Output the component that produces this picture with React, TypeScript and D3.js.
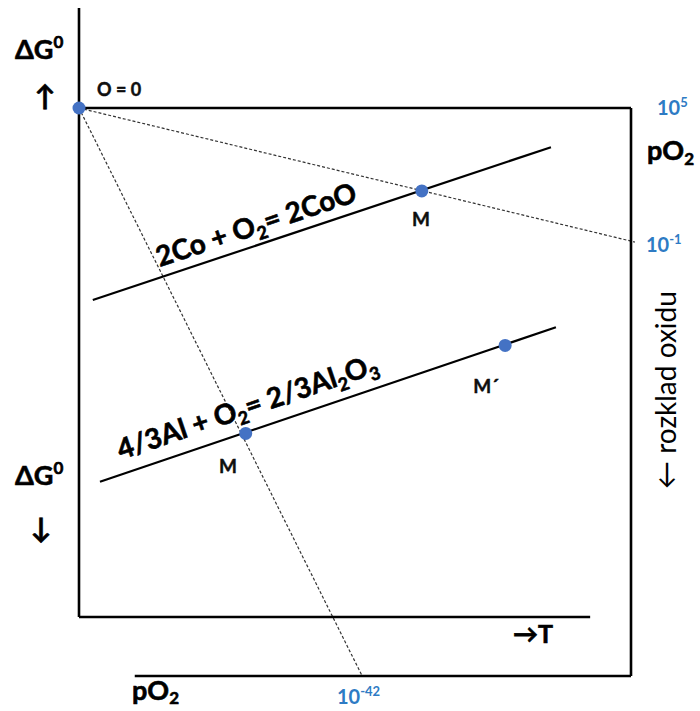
import React from "react";
import * as d3 from "d3";

// Ellingham-type diagram: ΔG° of oxide formation vs temperature, with pO2 nomogram.
const W = 700;
const H = 711;

// Reaction lines: [T, ΔG] at each end (arbitrary diagram units)
const reactionNames = ["co", "al"];
const reactionStart: [number, number][] = [
  [25, -338],
  [38, -658],
];
const reactionEnd: [number, number][] = [
  [855, -69],
  [864, -386],
];

// Marked points on the reaction lines
const pointLabels = ["M", "M", "M´"];
const pointT = [621, 302, 772];
const pointG = [-146, -573, -418];

// pO2 nomogram rays from the origin (T = 0, ΔG = 0)
const rayEndT = [1007, 513];
const rayEndG = [-236, -1000];

// pO2 scale labels (exponents of 10)
const pO2Exponents = ["5", "-1", "-42"];

const FONT = "Lato, 'Liberation Sans', sans-serif";
const BLUE = "#2E7BC4";
const DOT = "#4472C4";

export default function App() {
  const x = d3.scaleLinear().domain([0, 1000]).range([79, 631]);
  const y = d3.scaleLinear().domain([0, -1000]).range([108, 676]);

  const lineGen = d3
    .line<[number, number]>()
    .x((d) => x(d[0]))
    .y((d) => y(d[1]));

  // label placement helper along a reaction line
  const along = (i: number, frac: number, offset: number) => {
    const [t1, g1] = reactionStart[i];
    const [t2, g2] = reactionEnd[i];
    const x1 = x(t1), y1 = y(g1), x2 = x(t2), y2 = y(g2);
    const ang = Math.atan2(y2 - y1, x2 - x1);
    const px = x1 + (x2 - x1) * frac + Math.sin(ang) * offset;
    const py = y1 + (y2 - y1) * frac - Math.cos(ang) * offset;
    return { px, py, deg: (ang * 180) / Math.PI };
  };

  const coLbl = along(0, 0.37, 10);
  const alLbl = along(1, 0.34, 14);

  const pointLabelPos: [number, number][] = [
    [421, 226],
    [228, 473],
    [486, 393],
  ];

  // heavier bold, closer to a Calibri-like weight
  const heavy = { fontWeight: "bold" as const, stroke: "#000", strokeWidth: 0.6 };

  return (
    <svg
      width={W}
      height={H}
      style={{ position: "absolute", left: 0, top: 0, background: "#fff" }}
      fontFamily={FONT}
    >
      <rect width={W} height={H} fill="#fff" />

      {/* pO2 rays */}
      {rayEndT.map((t, i) => (
        <path
          key={"ray" + i}
          d={lineGen([
            [0, 0],
            [t, rayEndG[i]],
          ]) as string}
          stroke="#333"
          strokeWidth={1.2}
          strokeDasharray="3,2"
          fill="none"
        />
      ))}

      {/* axes and frame */}
      <g stroke="#000" strokeWidth={2.6} fill="none">
        <path d={lineGen([[0, 176], [0, -896]]) as string} />
        <path d={lineGen([[0, -896], [926, -896]]) as string} />
        <path d={lineGen([[0, 0], [1000, 0]]) as string} />
        <path d={lineGen([[1000, 0], [1000, -1000]]) as string} />
        <path d={lineGen([[101, -1000], [1000, -1000]]) as string} />
      </g>

      {/* reaction lines */}
      {reactionNames.map((n, i) => (
        <path
          key={n}
          d={lineGen([reactionStart[i], reactionEnd[i]]) as string}
          stroke="#000"
          strokeWidth={2.2}
          fill="none"
        />
      ))}

      {/* reaction labels */}
      <text
        transform={`translate(${coLbl.px},${coLbl.py}) rotate(${coLbl.deg})`}
        textAnchor="middle"
        fontSize={28}
        fill="#000"
        {...heavy}
      >
        2Co + O<tspan fontSize={18} dy={6}>2</tspan>
        <tspan dy={-6}>= 2CoO</tspan>
      </text>
      <text
        transform={`translate(${alLbl.px},${alLbl.py}) rotate(${alLbl.deg})`}
        textAnchor="middle"
        fontSize={28}
        fill="#000"
        {...heavy}
      >
        4/3Al + O<tspan fontSize={18} dy={6}>2</tspan>
        <tspan dy={-6}>= 2/3Al</tspan>
        <tspan fontSize={18} dy={6}>2</tspan>
        <tspan dy={-6}>O</tspan>
        <tspan fontSize={18} dy={6}>3</tspan>
      </text>

      {/* origin point */}
      <circle cx={x(0)} cy={y(0)} r={6.5} fill={DOT} />
      <text x={97} y={96} fontSize={18} fill="#111" {...heavy} strokeWidth={0.4}>
        O = 0
      </text>

      {/* marked points */}
      {pointT.map((t, i) => (
        <g key={"pt" + i}>
          <circle cx={x(t)} cy={y(pointG[i])} r={6.5} fill={DOT} />
          <text
            x={pointLabelPos[i][0]}
            y={pointLabelPos[i][1]}
            textAnchor="middle"
            fontSize={19}
            fill="#111"
            {...heavy}
            strokeWidth={0.4}
          >
            {pointLabels[i]}
          </text>
        </g>
      ))}

      {/* ΔG° axis labels */}
      <text x={15} y={59} fontSize={27} fill="#000" {...heavy}>
        ΔG<tspan fontSize={17} dy={-11}>0</tspan>
      </text>
      <text x={45} y={106} textAnchor="middle" fontSize={28} fill="#000" {...heavy}>
        ↑
      </text>
      <text x={15} y={485} fontSize={27} fill="#000" {...heavy}>
        ΔG<tspan fontSize={17} dy={-11}>0</tspan>
      </text>
      <text x={41} y={538} textAnchor="middle" fontSize={28} fill="#000" {...heavy}>
        ↓
      </text>

      {/* temperature axis label */}
      <text x={513} y={643} fontSize={25} fill="#000" {...heavy}>
        →T
      </text>

      {/* pO2 labels */}
      <text x={647} y={160} fontSize={27} fill="#000" {...heavy}>
        pO<tspan fontSize={17} dy={5}>2</tspan>
      </text>
      <text x={132} y={700} fontSize={27} fill="#000" {...heavy}>
        pO<tspan fontSize={17} dy={4}>2</tspan>
      </text>

      <text x={657} y={115} fontSize={20} fontWeight="bold" fill={BLUE}>
        10<tspan fontSize={13} dy={-8}>{pO2Exponents[0]}</tspan>
      </text>
      <text x={646} y={252} fontSize={20} fontWeight="bold" fill={BLUE}>
        10<tspan fontSize={13} dy={-8}>{pO2Exponents[1]}</tspan>
      </text>
      <text x={337} y={704} fontSize={20} fontWeight="bold" fill={BLUE}>
        10<tspan fontSize={13} dy={-8}>{pO2Exponents[2]}</tspan>
      </text>

      {/* oxide decomposition direction */}
      <text
        transform="translate(676,489) rotate(-90)"
        fontSize={28}
        fill="#000"
      >
        ← rozklad oxidu
      </text>
    </svg>
  );
}
